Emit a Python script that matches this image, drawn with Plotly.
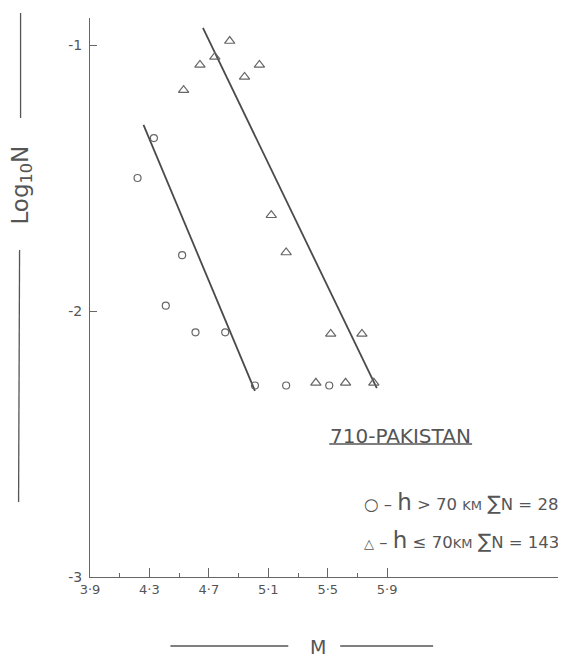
import plotly.graph_objects as go

# ---------------- data ----------------
deep_M = [4.22, 4.33, 4.41, 4.52, 4.61, 4.81, 5.01, 5.22, 5.51]
deep_logN = [-1.50, -1.35, -1.98, -1.79, -2.08, -2.08, -2.28, -2.28, -2.28]

shallow_M = [4.53, 4.64, 4.74, 4.84, 4.94, 5.04, 5.12, 5.22, 5.42, 5.52, 5.62, 5.73, 5.81]
shallow_logN = [-1.17, -1.075, -1.045, -0.985, -1.12, -1.075, -1.64, -1.78, -2.27, -2.086, -2.27, -2.086, -2.27]

fit_deep_M = [4.26, 5.01]
fit_deep_logN = [-1.30, -2.30]
fit_shallow_M = [4.66, 5.83]
fit_shallow_logN = [-0.936, -2.29]

x_tick_vals = [3.9, 4.3, 4.7, 5.1, 5.5, 5.9]
x_tick_text = ["3·9", "4·3", "4·7", "5·1", "5·5", "5·9"]
x_minor_vals = [4.1, 4.5, 4.9, 5.3, 5.7]
y_tick_vals = [-1, -2, -3]
y_tick_text = ["-1", "-2", "-3"]

region_label = "710-PAKISTAN"
deep_label = ("○ – <span style='font-size:23px'>h</span> > 70 <span style='font-size:13px'>KM</span> "
              "<span style='font-size:20px'>∑</span>N = 28")
shallow_label = ("<span style='font-size:13px'>△</span> – <span style='font-size:23px'>h</span> ≤ 70"
                 "<span style='font-size:13px'>KM</span> <span style='font-size:20px'>∑</span>N = 143")

# ---------------- layout geometry ----------------
OFF = 8  # page body margin: screenshot pixel = figure pixel + OFF
W, H = 558, 649
L, T = 89.5 - OFF, 18 - OFF
R = W - (565 - OFF)
B = H - (577 - OFF)
PW, PH = W - L - R, H - T - B
INK = "#555555"
FONT = "DejaVu Sans"


def px(x):
    return (x - OFF - L) / PW


def py(y):
    return (H - B - (y - OFF)) / PH


fig = go.Figure()

line_style = dict(color="#4a4a4a", width=1.8)
fig.add_trace(go.Scatter(x=fit_deep_M, y=fit_deep_logN, mode="lines", line=line_style, showlegend=False))
fig.add_trace(go.Scatter(x=fit_shallow_M, y=fit_shallow_logN, mode="lines", line=line_style, showlegend=False))

fig.add_trace(go.Scatter(
    x=deep_M, y=deep_logN, mode="markers",
    marker=dict(symbol="circle-open", size=7, color="#666666", line=dict(width=1.2)),
    showlegend=False))
fig.add_trace(go.Scatter(
    x=shallow_M, y=shallow_logN, mode="markers",
    marker=dict(symbol="triangle-up-open", size=9, color="#666666", line=dict(width=1.2)),
    showlegend=False))

fig.update_layout(
    width=W, height=H,
    margin=dict(l=L, r=R, t=T, b=B, pad=0),
    paper_bgcolor="white", plot_bgcolor="white",
    font=dict(family=FONT, color=INK),
    xaxis=dict(
        range=[3.9, 3.9 + PW / 148.75], showgrid=False, zeroline=False,
        showline=True, linecolor="#666666", linewidth=1.2,
        tickmode="array", tickvals=x_tick_vals, ticktext=x_tick_text,
        ticks="inside", ticklen=9, tickcolor="#666666", tickwidth=1,
        tickfont=dict(size=13, color=INK, family=FONT),
        minor=dict(tickmode="array", tickvals=x_minor_vals, ticks="inside", ticklen=4,
                   tickcolor="#666666", tickwidth=1),
    ),
    yaxis=dict(
        range=[-3, -3 + PH / 266.0], showgrid=False, zeroline=False,
        showline=True, linecolor="#666666", linewidth=1.2,
        tickmode="array", tickvals=y_tick_vals, ticktext=y_tick_text,
        ticks="inside", ticklen=7, tickcolor="#666666", tickwidth=1,
        tickfont=dict(size=14, color=INK, family=FONT),
        ticklabelstandoff=4,
    ),
)


def label(xp, yp, text, size, xanchor="center", angle=0):
    return dict(x=px(xp), y=py(yp), xref="paper", yref="paper", text=text, textangle=angle,
                xanchor=xanchor, yanchor="middle", showarrow=False,
                font=dict(size=size, color=INK, family=FONT))


ann = [
    label(21, 185, "Log<sub>10</sub>N", 23, angle=-90),
    label(318, 647, "M", 19),
    label(400, 436, region_label, 20),
    label(362, 502, deep_label, 16.5, xanchor="left"),
    label(362, 540, shallow_label, 16.5, xanchor="left"),
]
fig.update_layout(annotations=ann)

shape_line = dict(color="#555555", width=1.3)
shapes = [
    dict(type="line", xref="paper", yref="paper", x0=px(20), x1=px(20), y0=py(13), y1=py(118), line=shape_line),
    dict(type="line", xref="paper", yref="paper", x0=px(19), x1=px(18), y0=py(250), y1=py(502), line=shape_line),
    dict(type="line", xref="paper", yref="paper", x0=px(170), x1=px(288), y0=py(646), y1=py(646), line=shape_line),
    dict(type="line", xref="paper", yref="paper", x0=px(340), x1=px(433), y0=py(646), y1=py(646), line=shape_line),
    dict(type="line", xref="paper", yref="paper", x0=px(329), x1=px(472), y0=py(444), y1=py(444), line=shape_line),
]
fig.update_layout(shapes=shapes)

fig.write_html("out.html")
